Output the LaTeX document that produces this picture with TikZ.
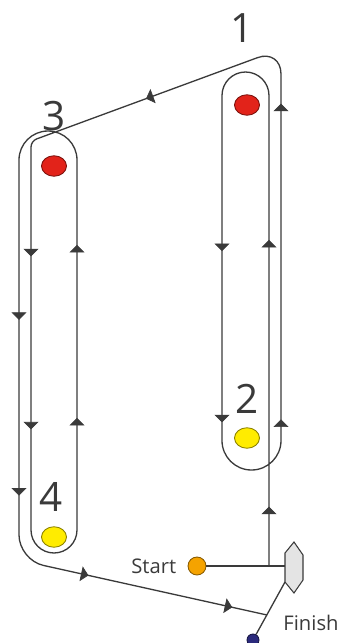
\documentclass[tikz,border=0pt]{standalone}
\usepackage{fontspec}
\setmainfont{Open Sans}
\usetikzlibrary{shapes.geometric, arrows.meta, decorations.markings, positioning}
\definecolor{trk}{HTML}{3A3A3A}
\definecolor{redmk}{HTML}{E2231A}
\definecolor{yelmk}{HTML}{FFEC00}
\definecolor{orgmk}{HTML}{F5A300}
\definecolor{bluemk}{HTML}{2B2A7C}
\definecolor{boatgr}{HTML}{E4E4E4}
\tikzset{
  % --- Duong di ---------------------------------------------
  trackline/.style={draw=trk, line width=0.75pt},
  tipat/.style={postaction={decorate, decoration={markings,
    mark=at position #1 with {\arrow[trk]{Triangle[width=0.3cm, length=0.15cm]}}}}},
  % --- Phao / tau -------------------------------------------
  buoy/.style={draw=#1!55!black, fill=#1, ellipse, inner sep=0pt,
    minimum width=0.5cm, minimum height=0.41cm, line width=0.5pt},
  boatbox/.style={draw=trk, fill=boatgr, line width=0.6pt},
  num/.style={font=\fontsize{23}{25}\selectfont, text=trk, inner sep=0pt},
  lbl/.style={font=\fontsize{11.5}{13}\selectfont, text=trk, inner sep=0pt}
}

\begin{document}
\begin{tikzpicture}[x=0.02cm, y=-0.02cm]
  \useasboundingbox (0,0) rectangle (339,643);

  % ---------- Tau trong tai ----------
  \coordinate (bt) at (294,542);
  \coordinate (bne) at (303,555);
  \coordinate (bse) at (303,580);
  \coordinate (bb) at (294,593);
  \coordinate (bsw) at (285,582);
  \coordinate (bnw) at (285,553);
  \coordinate (bw) at (285,566);

  % ---------- Diem xuat phat / dich ----------
  \node[buoy=orgmk, minimum width=0.36cm, minimum height=0.36cm] (st) at (197,566) {};
  \node[lbl, left=0.22cm of st] (tst) {Start};
  \node[buoy=bluemk, minimum width=0.24cm, minimum height=0.24cm] (fin) at (253,640) {};
  \node[lbl] (tfin) at (311,623) {Finish};

  % ---------- Cac goc cua duong di ----------
  \coordinate (j0) at (269,566);
  \coordinate (k1) at (269,72);
  \coordinate (k2) at (222,72);
  \coordinate (k3) at (222,470);
  \coordinate (k4) at (281,470);
  \coordinate (k5) at (281,49);
  \coordinate (k6) at (31,141);
  \coordinate (k7) at (31,553);
  \coordinate (k8) at (77,553);
  \coordinate (k9) at (77,131);
  \coordinate (k10) at (19,131);
  \coordinate (k11) at (19,560);
  \coordinate (fp) at (267,615);

  % ---------- Duong di ----------
  \draw[trackline] (st) -- (bw);
  \draw[trackline] (fin) -- (bsw);
  \draw[trackline] (j0) [rounded corners=0.47cm] -- (k1)
    -- (k2) [rounded corners=0.59cm] -- (k3)
    -- (k4) [rounded corners=0.5cm] -- (k5) [rounded corners=0.12cm]
    -- (k6) [rounded corners=0.46cm] -- (k7)
    -- (k8) [rounded corners=0.58cm] -- (k9)
    -- (k10) [rounded corners=0.5cm] -- (k11) -- (fp);

  % mui ten chi huong tren tung doan thang
  \path[tipat=0.12, tipat=0.66] (j0) -- (k1);
  \path[tipat=0.45, tipat=0.88] (k2) -- (k3);
  \path[tipat=0.12, tipat=0.87] (k4) -- (k5);
  \path[tipat=0.54] (k5) -- (k6);
  \path[tipat=0.28, tipat=0.70] (k6) -- (k7);
  \path[tipat=0.32, tipat=0.73] (k8) -- (k9);
  \path[tipat=0.44, tipat=0.85] (k10) -- (k11);
  \path[tipat=0.28, tipat=0.86] (k11) -- (fp);

  \draw[boatbox] (bt) -- (bne) -- (bse) -- (bb) -- (bsw) -- (bnw) -- cycle;

  % ---------- Phao ----------
  \node[buoy=redmk] (m1) at (247,105) {};
  \node[buoy=yelmk] (m2) at (247,438) {};
  \node[buoy=redmk] (m3) at (54,166) {};
  \node[buoy=yelmk] (m4) at (54,537) {};
  \node[num] (t1) at (242,28) {1};
  \node[num] (t2) at (247,399) {2};
  \node[num] (t3) at (54,116) {3};
  \node[num] (t4) at (51,497) {4};

\end{tikzpicture}
\end{document}
